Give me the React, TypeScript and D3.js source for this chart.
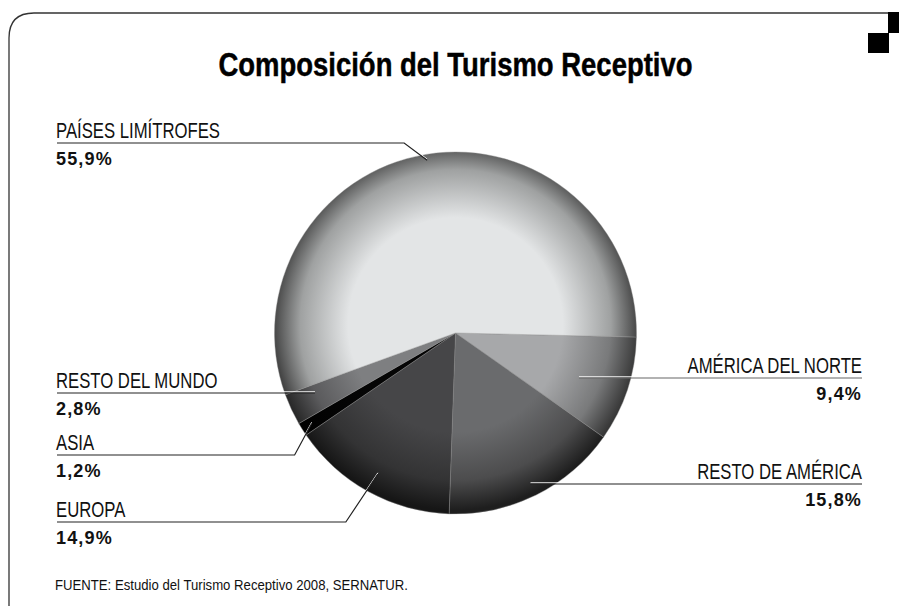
import React from "react";
import * as d3 from "d3";

// chart data
const categories = [
  "AMÉRICA DEL NORTE",
  "RESTO DE AMÉRICA",
  "EUROPA",
  "ASIA",
  "RESTO DEL MUNDO",
  "PAÍSES LIMÍTROFES",
];
const shares = [9.4, 15.8, 14.9, 1.2, 2.8, 55.9];
const shareLabels = ["9,4%", "15,8%", "14,9%", "1,2%", "2,8%", "55,9%"];
const sliceColors = ["#a7a8aa", "#6a6b6d", "#464648", "#050505", "#7e7f81", "#e3e5e6"];
const rimColors = ["#353535", "#1e1e1e", "#161616", "#000000", "#262626", "#3a3a3a"];

const title = "Composición del Turismo Receptivo";
const source = "FUENTE: Estudio del Turismo Receptivo 2008, SERNATUR.";

// label layout: side, line y, anchor radius
const labelSide = ["right", "right", "left", "left", "left", "left"];
const labelLineY = [378, 484, 522, 455, 393, 143];
const anchorRadius = [130, 163, 161, 170, 155, 175];

const W = 899;
const H = 606;
const cx = 455.5;
const cy = 333;
const R = 181;
const leftX = 57;
const rightX = 862;
const FONT = "'Liberation Sans', Arial, sans-serif";
const SQUEEZE = 0.76;

export default function App() {
  const pie = d3
    .pie<number>()
    .sort(null)
    .value((d) => d)
    .startAngle((91.3 * Math.PI) / 180)
    .endAngle((91.3 * Math.PI) / 180 + 2 * Math.PI);
  const arcs = pie(shares);
  const arc = d3.arc<d3.PieArcDatum<number>>().innerRadius(0).outerRadius(R);

  return (
    <svg
      width={W}
      height={H}
      style={{ position: "absolute", left: 0, top: 0, background: "#fff" }}
    >
      <defs>
        {sliceColors.map((c, i) => (
          <radialGradient
            key={i}
            id={`g${i}`}
            gradientUnits="userSpaceOnUse"
            cx={0}
            cy={-8}
            r={R + 4}
          >
            <stop offset="0" stopColor={c} />
            <stop offset="0.58" stopColor={c} />
            <stop offset="0.84" stopColor={d3.interpolateRgb(c, rimColors[i])(0.4)} />
            <stop offset="1" stopColor={rimColors[i]} />
          </radialGradient>
        ))}
      </defs>

      {/* frame */}
      <path
        d={`M9,606 L9,38 Q9,13 34,13 L888,13`}
        fill="none"
        stroke="#333"
        strokeWidth={1.3}
      />
      <rect x={888} y={12} width={11} height={21} fill="#000" />
      <rect x={868} y={33} width={21} height={20} fill="#000" />

      <text
        x={cx}
        y={76}
        textAnchor="middle"
        fontFamily={FONT}
        fontWeight="bold"
        fontSize={34}
        textLength={474}
        lengthAdjust="spacingAndGlyphs"
        fill="#000"
        stroke="#000"
        strokeWidth={0.5}
      >
        {title}
      </text>

      <g transform={`translate(${cx},${cy})`}>
        {arcs.map((a, i) => (
          <path key={i} d={arc(a) || ""} fill={`url(#g${i})`} stroke="#8a8a8a" strokeWidth={0.4} />
        ))}
      </g>

      {arcs.map((a, i) => {
        const mid = (a.startAngle + a.endAngle) / 2;
        const ax = cx + anchorRadius[i] * Math.sin(mid);
        const ay = cy - anchorRadius[i] * Math.cos(mid);
        const ly = labelLineY[i];
        const right = labelSide[i] === "right";
        let pts: [number, number][];
        if (right) {
          const ex = cx + (ly - cy) * Math.tan(Math.PI - mid);
          pts = [
            [i === 0 ? ax : ex, ly],
            [rightX, ly],
          ];
        } else if (i === 4) {
          pts = [
            [leftX, ly],
            [ax, ly],
          ];
        } else {
          const dx = i === 5 ? -23 : i === 3 ? -17 : -32;
          pts = [
            [leftX, ly],
            [ax + dx, ly],
            [ax, ay],
          ];
        }
        const line = d3.line()(pts) || "";
        const tx = right ? rightX : leftX - 1;
        const anchor = right ? "end" : "start";
        return (
          <g key={i}>
            <path d={line} fill="none" stroke="#fff" strokeWidth={1} transform="translate(0,-1.2)" />
            <path d={line} fill="none" stroke={i === 0 ? "#666" : "#222"} strokeWidth={1.2} />
            <text
              transform={`translate(${tx},${ly - 5}) scale(${SQUEEZE},1)`}
              textAnchor={anchor}
              fontFamily={FONT}
              fontSize={22}
              fill="#111"
            >
              {categories[i]}
            </text>
            <text
              transform={`translate(${tx},${ly + 22}) scale(0.95,1)`}
              textAnchor={anchor}
              fontFamily={FONT}
              fontWeight="bold"
              fontSize={19}
              letterSpacing={1.2}
              fill="#111"
            >
              {shareLabels[i]}
            </text>
          </g>
        );
      })}

      <text
        transform="translate(55,590) scale(0.94,1)"
        fontFamily={FONT}
        fontSize={14}
        fill="#111"
      >
        {source}
      </text>
    </svg>
  );
}
